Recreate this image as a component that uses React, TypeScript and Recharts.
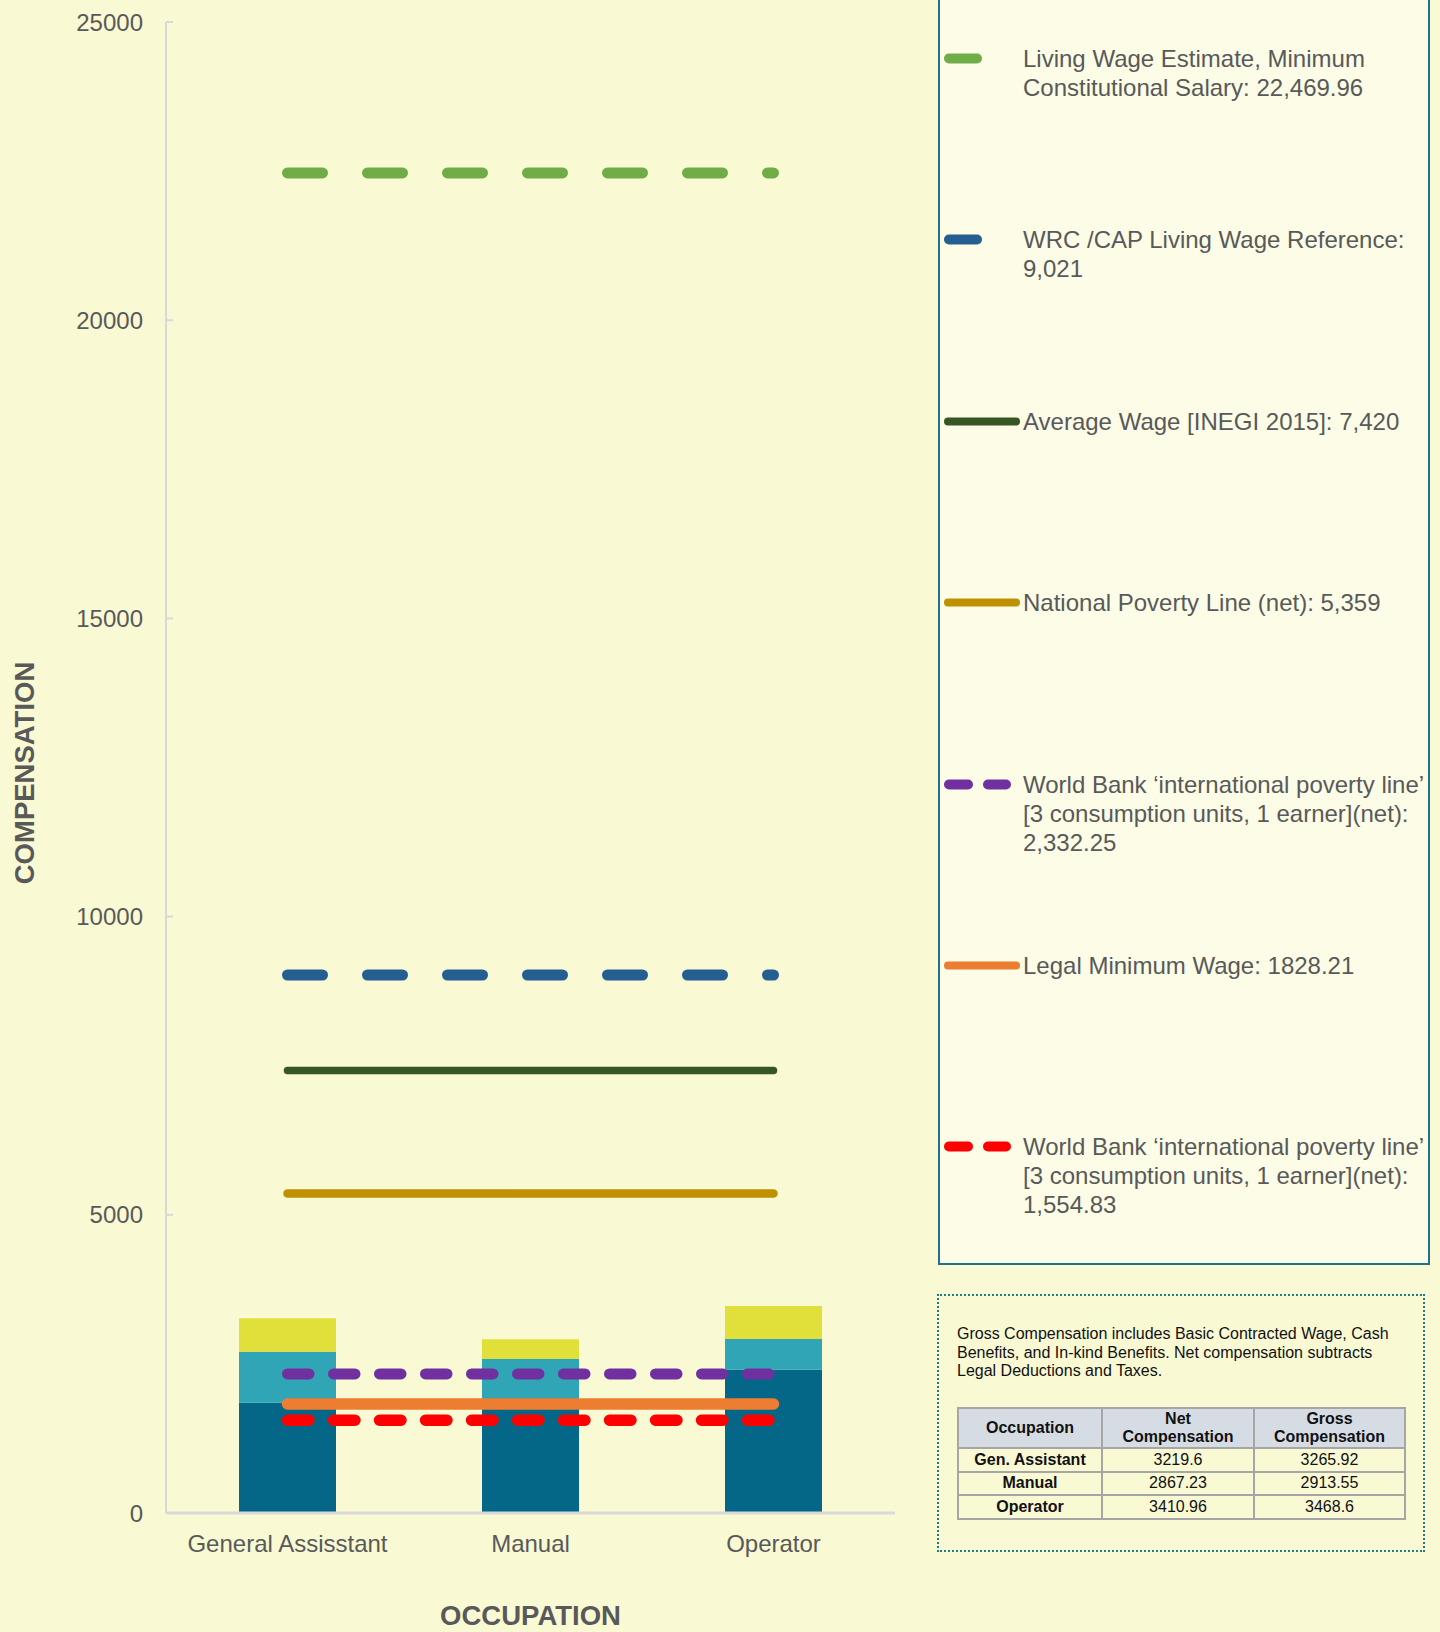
import { ComposedChart, Bar, Line, XAxis, YAxis, Label } from "recharts";

// categories + stacked pay components (MXN)
const occupations = ["General Assisstant", "Manual", "Operator"];
const basicWage = [1850, 1840, 2403];
const cashBenefits = [855, 742, 515];
const inKindBenefits = [561, 332, 551];

const yTicks = [0, 5000, 10000, 15000, 20000, 25000];

// reference lines
const lineKeys = [
  "livingWage",
  "wrcCap",
  "averageWage",
  "povertyLine",
  "worldBank3",
  "minimumWage",
  "worldBank1",
];
const lineValues = [22469.96, 9021, 7420, 5359, 2332.25, 1828.21, 1554.83];
const lineLabels = [
  "Living Wage Estimate, Minimum\nConstitutional Salary: 22,469.96",
  "WRC /CAP Living Wage Reference:\n9,021",
  "Average Wage [INEGI 2015]: 7,420",
  "National Poverty Line (net): 5,359",
  "World Bank \u2018international poverty line\u2019\n[3 consumption units, 1 earner](net):\n2,332.25",
  "Legal Minimum Wage: 1828.21",
  "World Bank \u2018international poverty line\u2019\n[3 consumption units, 1 earner](net):\n1,554.83",
];

// side table
const tableOccupations = ["Gen. Assistant", "Manual", "Operator"];
const netCompensation = ["3219.6", "2867.23", "3410.96"];
const grossCompensation = ["3265.92", "2913.55", "3468.6"];
const noteText =
  "Gross Compensation includes Basic Contracted Wage, Cash\nBenefits, and In-kind Benefits. Net compensation subtracts\nLegal Deductions and Taxes.";

const lineColors = ["#70AD47", "#255E91", "#375623", "#BF9000", "#7030A0", "#ED7D31", "#FF0000"];
const lineWidths = [11, 11, 7.5, 8.5, 11, 11.5, 11.5];
const lineDashes = ["35 45", "35 45", undefined, undefined, "21.5 24.5", undefined, "21.5 24.5"];
// legend swatch kind: 1 = single dash, 2 = two dashes, 0 = solid
const swatchKind = [1, 1, 0, 0, 2, 0, 2];

const FONT = '"Liberation Sans", Arial, Helvetica, sans-serif';
const GREY = "#595959";

const data = occupations.map((name, i) => {
  const row: Record<string, string | number> = {
    name,
    basic: basicWage[i],
    cash: cashBenefits[i],
    inKind: inKindBenefits[i],
  };
  lineKeys.forEach((k, j) => {
    row[k] = lineValues[j];
  });
  return row;
});

function Swatch({ i }: { i: number }) {
  const c = lineColors[i];
  const kind = swatchKind[i];
  return (
    <svg width={80} height={29} style={{ position: "absolute", left: 0, top: 0 }}>
      {kind === 0 && (
        <line x1={4} y1={14.5} x2={72} y2={14.5} stroke={c} strokeWidth={8} strokeLinecap="round" />
      )}
      {kind === 1 && (
        <line x1={5} y1={14.5} x2={33} y2={14.5} stroke={c} strokeWidth={10} strokeLinecap="round" />
      )}
      {kind === 2 && (
        <>
          <line x1={5} y1={14.5} x2={24} y2={14.5} stroke={c} strokeWidth={10} strokeLinecap="round" />
          <line x1={44} y1={14.5} x2={62} y2={14.5} stroke={c} strokeWidth={10} strokeLinecap="round" />
        </>
      )}
    </svg>
  );
}

const cell = {
  border: "2px solid #A6A6A6",
  padding: 0,
  textAlign: "center" as const,
};

export default function App() {
  return (
    <div
      style={{
        position: "absolute",
        left: 0,
        top: 0,
        width: 1440,
        height: 1632,
        background: "#F9F9D3",
        fontFamily: FONT,
        overflow: "hidden",
      }}
    >
      <ComposedChart
        width={910}
        height={1632}
        data={data}
        margin={{ top: 22, right: 15, bottom: 0, left: 0 }}
      >
        <XAxis
          dataKey="name"
          height={119}
          tickLine={false}
          tickMargin={16}
          axisLine={{ stroke: "#D9D9D9", strokeWidth: 3 }}
          tick={{ fill: GREY, fontSize: 24, fontFamily: FONT }}
        >
          <Label
            content={({ viewBox }: any) => (
              <text
                x={viewBox.x + viewBox.width / 2}
                y={viewBox.y + 112}
                textAnchor="middle"
                fill={GREY}
                fontSize={27.5}
                fontWeight="bold"
                fontFamily={FONT}
              >
                OCCUPATION
              </text>
            )}
          />
        </XAxis>
        <YAxis
          width={166}
          domain={[0, 25000]}
          ticks={yTicks}
          interval={0}
          tickSize={-7}
          tickMargin={30}
          axisLine={{ stroke: "#D9D9D9", strokeWidth: 2 }}
          tickLine={{ stroke: "#D9D9D9", strokeWidth: 2 }}
          tick={{ fill: GREY, fontSize: 24, fontFamily: FONT }}
        >
          <Label
            content={() => (
              <text
                x={34}
                y={773}
                transform="rotate(-90 34 773)"
                textAnchor="middle"
                fill={GREY}
                fontSize={27.5}
                fontWeight="bold"
                fontFamily={FONT}
              >
                COMPENSATION
              </text>
            )}
          />
        </YAxis>
        <Bar dataKey="basic" name="Basic Contracted Wage" stackId="pay" fill="#046788" barSize={97} isAnimationActive={false} />
        <Bar dataKey="cash" name="Cash Benefits" stackId="pay" fill="#2FA5B5" barSize={97} isAnimationActive={false} />
        <Bar dataKey="inKind" name="In-kind Benefits" stackId="pay" fill="#E1DF3A" barSize={97} isAnimationActive={false} />
        {lineKeys.map((k, i) => (
          <Line
            key={k}
            type="linear"
            dataKey={k}
            name={lineLabels[i]}
            stroke={lineColors[i]}
            strokeWidth={lineWidths[i]}
            strokeDasharray={lineDashes[i]}
            strokeLinecap="round"
            dot={false}
            activeDot={false}
            isAnimationActive={false}
          />
        ))}
      </ComposedChart>

      {/* legend box */}
      <div
        style={{
          position: "absolute",
          left: 938,
          top: -4,
          width: 492,
          height: 1269,
          boxSizing: "border-box",
          border: "2px solid #20718C",
          background: "#FCFCE7",
        }}
      />
      {lineLabels.map((label, i) => (
        <div
          key={label}
          style={{ position: "absolute", left: 944, top: 44 + i * 181.4, width: 480 }}
        >
          <Swatch i={i} />
          <div
            style={{
              position: "absolute",
              left: 79,
              top: 0,
              fontSize: 24,
              lineHeight: "29px",
              color: GREY,
              whiteSpace: "pre",
            }}
          >
            {label}
          </div>
        </div>
      ))}

      {/* note + table */}
      <div
        style={{
          position: "absolute",
          left: 937,
          top: 1294,
          width: 488,
          height: 258,
          boxSizing: "border-box",
          border: "2px dotted #1F7A8C",
        }}
      />
      <div
        style={{
          position: "absolute",
          left: 957,
          top: 1325,
          fontSize: 16,
          lineHeight: "18.7px",
          color: "#111",
          whiteSpace: "pre",
        }}
      >
        {noteText}
      </div>
      <table
        style={{
          position: "absolute",
          left: 957,
          top: 1407,
          width: 447,
          borderCollapse: "collapse",
          fontSize: 16,
          color: "#111",
          tableLayout: "fixed",
        }}
      >
        <colgroup>
          <col style={{ width: 144 }} />
          <col style={{ width: 152 }} />
          <col style={{ width: 151 }} />
        </colgroup>
        <thead>
          <tr style={{ height: 40, background: "#D6DCE4", fontWeight: "bold", lineHeight: "18px" }}>
            <th style={cell}>Occupation</th>
            <th style={cell}>
              Net
              <br />
              Compensation
            </th>
            <th style={cell}>
              Gross
              <br />
              Compensation
            </th>
          </tr>
        </thead>
        <tbody>
          {tableOccupations.map((occ, i) => (
            <tr key={occ} style={{ height: 23.5 }}>
              <td style={{ ...cell, fontWeight: "bold" }}>{occ}</td>
              <td style={cell}>{netCompensation[i]}</td>
              <td style={cell}>{grossCompensation[i]}</td>
            </tr>
          ))}
        </tbody>
      </table>
    </div>
  );
}
